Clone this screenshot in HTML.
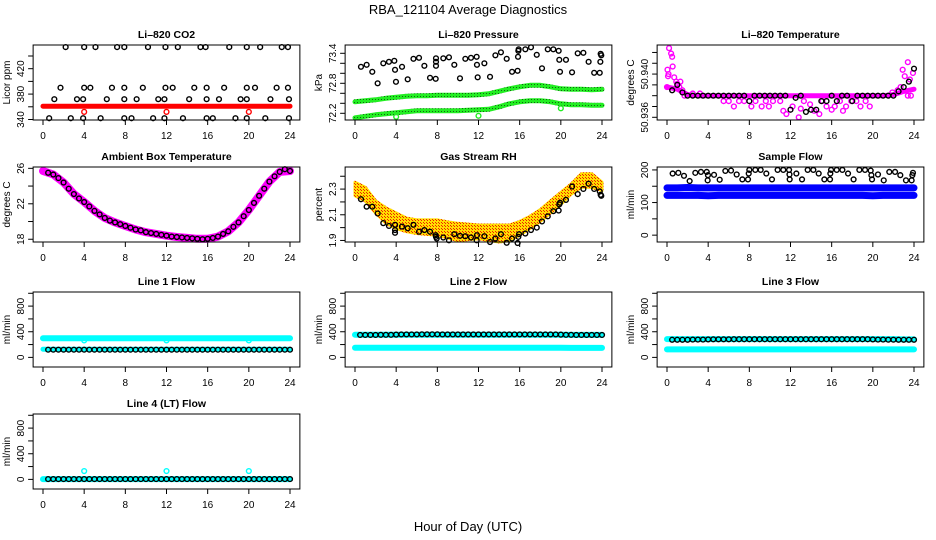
<!DOCTYPE html>
<html><head><meta charset="utf-8"><style>
html,body{margin:0;padding:0;background:#fff;}
svg{display:block;font-family:"Liberation Sans",Arial,sans-serif;}
.tk{font-size:10px;fill:#000;}
.pt{font-size:10.5px;font-weight:bold;fill:#000;}
</style></head><body>
<svg id="chart" width="936" height="540" viewBox="0 0 936 540" xmlns="http://www.w3.org/2000/svg">
<defs>
<pattern id="rhpat" width="3" height="3" patternUnits="userSpaceOnUse"><rect width="3" height="3" fill="#ffdd00"/><rect width="1" height="1" fill="#ee2200"/><rect x="1" y="1" width="1" height="1" fill="#ee2200"/></pattern>
<pattern id="grpat" width="3" height="3" patternUnits="userSpaceOnUse"><rect width="3" height="3" fill="#22ee22"/><rect width="1" height="1" fill="#116611"/></pattern>
</defs>
<text x="468" y="14" text-anchor="middle" font-size="13">RBA_121104  Average Diagnostics</text>
<text x="468" y="531" text-anchor="middle" font-size="13">Hour of Day (UTC)</text>
</svg>
<script>
const hh = [0.5,1,1.5,2,2.5,3,3.5,4,4.5,5,5.5,6,6.5,7,7.5,8,8.5,9,9.5,10,10.5,11,11.5,12,12.5,13,13.5,14,14.5,15,15.5,16,16.5,17,17.5,18,18.5,19,19.5,20,20.5,21,21.5,22,22.5,23,23.5,24];
const hourly = [0,1,2,3,4,5,6,7,8,9,10,11,12,13,14,15,16,17,18,19,20,21,22,23,24];
const xTickLabels = ["0","4","8","12","16","20","24"];

// CO2
const co2Hours = [2.2,4.0,5.1,7.2,7.9,10.2,11.9,13.1,15.3,15.8,18.1,19.8,21.1,23.2,23.8, 1.7,4.0,4.6,6.7,7.9,9.7,11.9,12.6,14.7,15.9,17.6,19.8,20.6,22.7,23.8, 1.1,3.3,3.9,6.2,7.9,9.1,11.2,11.8,14.2,15.9,17.1,19.2,19.8,22.1,23.9, 0.6,2.7,3.9,5.6,7.9,8.6,10.7,11.8,13.6,15.9,16.5,18.7,19.8,21.6,23.9];
const co2Vals = [454,454,454,454,454,454,454,454,454,454,454,454,454,454,454, 390,390,390,390,390,390,390,390,390,390,390,390,390,390,390, 372,372,372,372,372,372,372,372,372,372,372,372,372,372,372, 342,342,342,342,342,342,342,342,342,342,342,342,342,342,342];
const co2Red = [361,361,361,361,361,361,361,361,361,361,361,361,361,361,361,361,361,361,361,361,361,361,361,361,361];
const co2RedOutHours = [4,12,20];
const co2RedOutVals = [352,352,352];

// Pressure
const prHours = [0.58,1.13,1.68,2.2,2.75,3.3,3.82,3.89,3.98,4.57,5.12,5.68,6.22,6.74,7.29,7.84,7.87,7.87,7.87,8.58,9.13,9.65,10.2,10.72,11.27,11.82,11.85,11.92,12.57,13.12,13.64,14.18,14.74,15.26,15.8,15.84,15.87,15.9,16.55,17.1,17.66,18.17,18.73,19.27,19.79,19.85,19.92,20.5,21.09,21.64,22.19,22.7,23.24,23.78,23.84,23.87,23.93];
const prVals = [73.13,73.17,73.03,72.80,73.20,73.23,73.25,73.07,72.83,73.13,72.88,73.29,73.31,73.15,72.91,72.89,73.30,73.23,73.15,73.30,73.32,73.17,72.90,73.29,73.31,73.33,73.17,72.92,73.20,72.93,73.36,73.42,73.29,73.03,73.05,73.33,73.45,73.48,73.48,73.52,73.37,73.10,73.48,73.48,73.45,73.27,73.03,73.27,73.02,73.40,73.41,73.23,73.01,73.01,73.23,73.39,73.36];
const prGreenHi = [72.43,72.45,72.47,72.50,72.52,72.54,72.55,72.55,72.56,72.56,72.56,72.56,72.57,72.59,72.64,72.69,72.73,72.76,72.76,72.73,72.69,72.68,72.68,72.67,72.68];
const prGreenLo = [72.11,72.14,72.17,72.19,72.21,72.23,72.25,72.25,72.25,72.25,72.25,72.26,72.27,72.28,72.33,72.39,72.43,72.45,72.45,72.43,72.39,72.37,72.37,72.36,72.36];
const prOutHours = [4,12,20];
const prOutVals = [72.13,72.15,72.30];

// Li-820 Temperature
const tBlack = [50.9385,50.9390,50.9383,50.938,50.938,50.938,50.938,50.938,50.938,50.938,50.938,50.938,50.938,50.938,50.938,50.9375,50.938,50.938,50.938,50.938,50.938,50.938,50.938,50.9367,50.9378,50.938,50.9365,50.9367,50.9367,50.9375,50.9375,50.938,50.9375,50.938,50.938,50.9375,50.938,50.938,50.938,50.938,50.938,50.938,50.938,50.938,50.9384,50.9388,50.9393,50.9405];
const tBand = [50.9388,50.9386,50.9381,50.938,50.938,50.938,50.938,50.938,50.938,50.938,50.938,50.938,50.938,50.938,50.938,50.938,50.938,50.938,50.938,50.938,50.938,50.938,50.9381,50.9384,50.9386];
const tMagHours = [0.0,0.05,0.1,0.15,0.2,0.4,0.5,0.55,0.7,0.9,1.0,1.2,1.3,1.5,1.7,2.5,3.2,5.5,6.0,6.5,7.0,7.5,8.2,8.6,9.2,9.6,9.9,10.3,11.0,11.3,11.6,12.2,12.8,13.0,13.3,13.9,14.3,14.8,15.1,15.5,16.0,16.3,16.8,17.1,17.4,17.9,18.4,18.8,19.3,19.7,21.9,22.4,22.7,22.9,23.1,23.4,23.4,23.6,23.7,23.9];
const tMagVals = [50.9388,50.9404,50.9398,50.9400,50.9424,50.9419,50.9416,50.9407,50.9397,50.9393,50.9391,50.9388,50.9393,50.9385,50.9380,50.9382,50.9382,50.9375,50.9375,50.9370,50.9375,50.9375,50.9370,50.9375,50.9370,50.9375,50.9370,50.9375,50.9375,50.9366,50.9363,50.9370,50.9360,50.9368,50.9375,50.9372,50.9366,50.9363,50.9375,50.9370,50.9367,50.9370,50.9375,50.9366,50.9370,50.9375,50.9375,50.9370,50.9375,50.9370,50.9383,50.9385,50.9388,50.9404,50.9398,50.9411,50.9380,50.9395,50.9380,50.9401];

// Ambient
const ambBand = [25.7,25.3,24.4,23.1,22.2,21.2,20.4,19.9,19.5,19.1,18.8,18.6,18.4,18.25,18.15,18.05,18.05,18.3,18.9,19.9,21.3,22.9,24.5,25.6,25.7];
const ambBlack = [25.5,25.3,24.9,24.4,23.7,23.1,22.6,22.2,21.7,21.2,20.8,20.4,20.1,19.9,19.7,19.5,19.3,19.1,19.0,18.8,18.7,18.6,18.5,18.4,18.3,18.25,18.2,18.15,18.1,18.05,18.0,18.05,18.15,18.3,18.6,18.9,19.4,19.9,20.6,21.3,22.1,22.9,23.7,24.5,25.1,25.6,25.9,25.7];

// Gas RH
const rhHi = [2.354,2.314,2.208,2.154,2.114,2.074,2.06,2.06,2.06,2.045,2.034,2.027,2.02,2.02,2.02,2.02,2.048,2.088,2.14,2.208,2.274,2.34,2.42,2.42,2.354];
const rhLo = [2.248,2.208,2.114,2.034,1.994,1.968,1.954,1.947,1.94,1.92,1.90,1.907,1.914,1.90,1.888,1.90,1.94,1.994,2.048,2.114,2.18,2.26,2.314,2.314,2.288];
const rhHours = [0.58,1.13,1.68,2.2,2.75,3.3,3.89,3.89,3.89,4.57,5.12,5.68,6.22,6.74,7.29,7.84,7.87,7.94,8.58,9.13,9.65,10.2,10.72,11.27,11.82,11.85,12.57,13.12,13.64,14.18,14.74,15.26,15.8,15.87,15.94,16.55,17.1,17.66,18.17,18.73,19.27,19.79,19.85,19.92,20.5,21.09,21.64,22.19,22.7,23.24,23.78,23.87,23.93];
const rhVals = [2.221,2.163,2.163,2.11,2.035,2.013,2.022,1.981,1.96,2.008,1.995,2.022,1.968,1.981,1.968,1.941,1.928,1.915,1.923,1.901,1.949,1.936,1.933,1.923,1.901,1.941,1.933,1.888,1.915,1.949,1.882,1.915,1.88,1.928,1.949,1.954,1.981,2.0,2.048,2.088,2.128,2.133,2.181,2.194,2.216,2.32,2.261,2.301,2.342,2.301,2.282,2.256,2.248];

// Sample flow
const sfHi = [145,145,146,145,145,145,145,145,145,145,145,145,145,145,145,145,145,145,145,145,145,145,145,145,145];
const sfLo = [122,122,122,122,121,122,122,122,122,122,122,122,122,122,122,122,122,122,122,122,121,122,122,122,122];
const sfHours = [0.55,1.1,1.65,2.2,2.75,3.3,3.86,3.95,3.98,4.57,5.12,5.67,6.22,6.77,7.32,7.87,7.94,8.0,8.58,9.1,9.65,10.2,10.75,11.3,11.86,11.9,11.92,12.57,13.12,13.67,14.22,14.74,15.29,15.84,15.87,15.94,16.49,17.04,17.59,18.13,18.69,19.24,19.79,19.86,19.92,20.5,21.06,21.6,22.16,22.67,23.22,23.77,23.84,23.9];
const sfVals = [189,191,182,166,191,194,194,168,184,185,170,197,198,186,171,171,189,200,200,200,189,171,200,200,200,186,171,189,171,200,200,189,171,171,189,200,200,200,189,171,200,200,198,184,171,186,168,194,194,184,168,168,184,191];

// Line flows
const l1CyanHi = [300,300,300,300,300,300,300,300,300,300,300,300,300,300,300,300,300,300,300,300,300,300,298,298,298];
const l1CyanLo = [128,128,128,128,128,128,128,128,128,128,128,128,128,128,128,128,128,128,128,128,128,128,128,128,128];
const l1OutHours = [4,12,20];
const l1OutVals = [265,265,265];
const l1Black = [120,120,120,120,120,120,120,120,120,120,120,120,120,120,120,120,120,120,120,120,120,120,120,120,120,120,120,120,120,120,120,120,120,120,120,120,120,120,120,120,120,120,120,120,120,120,120,120];
const l2CyanHi = [352,352,352,352,352,352,352,352,352,352,352,352,352,352,352,352,352,352,352,352,352,350,350,350,350];
const l2CyanLo = [150,150,150,150,150,150,150,150,150,150,150,150,150,150,150,150,150,150,150,150,150,148,148,148,148];
const l2Black = [350,350,350,350,352,352,352,355,358,358,358,358,360,360,360,360,358,358,358,358,358,358,358,358,358,358,358,358,358,358,358,358,358,358,358,358,358,358,358,355,352,352,350,350,350,350,350,350];
const l3CyanHi = [285,285,285,285,285,285,285,285,285,285,285,285,285,285,285,285,285,285,285,285,285,285,285,280,280];
const l3CyanLo = [125,125,125,125,125,125,125,125,125,125,125,125,125,125,125,125,125,125,125,125,125,125,125,125,125];
const l3Black = [275,275,275,275,278,278,278,280,282,282,282,282,283,283,283,283,283,283,283,283,283,283,283,283,283,283,283,283,283,283,283,283,283,283,283,283,283,283,283,280,278,278,276,276,275,275,275,275];
const l4Cyan = [5,5,5,5,5,5,5,5,5,5,5,5,5,5,5,5,5,5,5,5,5,5,5,5,5];
const l4OutHours = [4,12,20];
const l4OutVals = [130,130,130];
const l4Black = [5,5,5,5,5,5,5,5,5,5,5,5,5,5,5,5,5,5,5,5,5,5,5,5,5,5,5,5,5,5,5,5,5,5,5,5,5,5,5,5,5,5,5,5,5,5,5,5];

const svg = document.getElementById('chart');
const NS = 'http://www.w3.org/2000/svg';
function mk(tag, attrs, parent){ const e=document.createElementNS(NS,tag); for(const k in attrs) e.setAttribute(k,attrs[k]); (parent||svg).appendChild(e); return e; }

const colX = [[43,290],[355,602],[667,914]];
const rowY = [45,167,292,414];
const BH = 75;

function panel(name, col, row, title, ylab, ymin, ymax, yticks, ylabels){
  const [x0,x24] = colX[col];
  const pad = 0.04*(x24-x0);
  const L = x0-pad, R = x24+pad, T = rowY[row], B = T+BH;
  const g = mk('g',{});
  
  
  const x = h => x0 + (h/24)*(x24-x0);
  const y = v => B - (v-ymin)/(ymax-ymin)*BH;
  const t = mk('text',{x:(L+R)/2, y:T-7, 'text-anchor':'middle', class:'pt'}, g);
  t.textContent = title;
  
  
  const xa = mk('g',{}, g);
  
  
  mk('line',{x1:x(0),x2:x(24),y1:B,y2:B,stroke:'#000','stroke-width':1}, xa);
  for(let i=0;i<xTickLabels.length;i++){
    const h = i*4;
    mk('line',{x1:x(h),x2:x(h),y1:B,y2:B+5,stroke:'#000','stroke-width':1}, xa);
    const tl = mk('text',{x:x(h), y:B+19, 'text-anchor':'middle', class:'tk'}, xa);
    tl.textContent = xTickLabels[i];
  }
  const ya = mk('g',{}, g);
  
  
  for(let i=0;i<yticks.length;i++){
    const v = yticks[i];
    mk('line',{x1:L-5,x2:L,y1:y(v),y2:y(v),stroke:'#000','stroke-width':1}, ya);
    if(ylabels[i]){
      const tl = mk('text',{x:L-9, y:y(v), 'text-anchor':'middle', class:'tk', transform:`rotate(-90 ${L-9} ${y(v)})`}, ya);
      tl.textContent = ylabels[i];
    }
  }
  const yt = mk('text',{x:L-23, y:(T+B)/2, 'text-anchor':'middle', class:'tk', transform:`rotate(-90 ${L-23} ${(T+B)/2})`}, ya);
  yt.textContent = ylab;
  
  
  const plot = mk('g',{}, g);
  const box = mk('rect',{x:L,y:T,width:R-L,height:BH,fill:'none',stroke:'#000','stroke-width':1}, g);
  
  
  return {g:plot, x, y};
}

function pts(p, hours, vals, color, name){
  const gg = mk('g',{}, p.g);
  
  
  for(let i=0;i<vals.length;i++){
    const c = mk('circle',{cx:p.x(hours[i]), cy:p.y(vals[i]), r:2.4, fill:'none', stroke:color, 'stroke-width':1.4}, gg);
    
    
  }
}
function band(p, hours, vals, color, w, name){
  const d = vals.map((v,i)=>`${p.x(hours[i]).toFixed(1)},${p.y(v).toFixed(1)}`).join(' ');
  const l = mk('polyline',{points:d, fill:'none', stroke:color, 'stroke-width':w, 'stroke-linejoin':'round', 'stroke-linecap':'round'}, p.g);
  
  
}
function area(p, hours, hi, lo, fill, name){
  const up = hi.map((v,i)=>`${p.x(hours[i]).toFixed(1)},${p.y(v).toFixed(1)}`);
  const dn = lo.map((v,i)=>`${p.x(hours[i]).toFixed(1)},${p.y(v).toFixed(1)}`).reverse();
  const a = mk('polygon',{points:up.concat(dn).join(' '), fill:fill, stroke:'url(#rhpat)','stroke-width':3,'stroke-linejoin':'round'}, p.g);
  
  
}

// Panels
let p = panel('co2-panel',0,0,'Li–820 CO2','Licor ppm',339.2,457.3,[340,360,380,400,420,440],['340','','380','','420','']);
band(p, hourly, co2Red, '#ff0000', 5, 'co2-red-band');
pts(p, co2RedOutHours, co2RedOutVals, '#ff0000', 'co2-red-outliers');
pts(p, co2Hours, co2Vals, '#000', 'co2-black-points');

p = panel('pressure-panel',1,0,'Li–820 Pressure','kPa',72.066,73.566,[72.2,72.4,72.6,72.8,73.0,73.2,73.4],['72.2','','','72.8','','','73.4']);
band(p, hourly, prGreenHi, 'url(#grpat)', 5, 'pressure-green-upper');
band(p, hourly, prGreenLo, 'url(#grpat)', 5, 'pressure-green-lower');
pts(p, prOutHours, prOutVals, '#22ee22', 'pressure-green-outliers');
pts(p, prHours, prVals, '#000', 'pressure-black-points');

p = panel('li820-temperature-panel',2,0,'Li–820 Temperature','degrees C',50.93575,50.94269,[50.936,50.937,50.938,50.939,50.940,50.941,50.942],['50.936','','','','50.940','','']);
band(p, hourly, tBand, '#ff00ff', 5, 'temperature-magenta-band');
pts(p, tMagHours, tMagVals, '#ff00ff', 'temperature-magenta-points');
pts(p, hh, tBlack, '#000', 'temperature-black-points');

p = panel('ambient-panel',0,1,'Ambient Box Temperature','degrees C',17.69,26.15,[18,20,22,24,26],['18','','22','','26']);
band(p, hourly, ambBand, '#ff00ff', 8, 'ambient-magenta-band');
pts(p, hh, ambBlack, '#000', 'ambient-black-points');

p = panel('rh-panel',1,1,'Gas Stream RH','percent',1.888,2.472,[1.9,2.0,2.1,2.2,2.3,2.4],['1.9','','2.1','','2.3','']);
area(p, hourly, rhHi, rhLo, 'url(#rhpat)', 'rh-orange-band');
pts(p, rhHours, rhVals, '#000', 'rh-black-points');

p = panel('sample-flow-panel',2,1,'Sample Flow','ml/min',-21,209,[0,50,100,150,200],['0','','100','','200']);
band(p, hourly, sfHi, '#0000ff', 7, 'sample-flow-upper-band');
band(p, hourly, sfLo, '#0000ff', 7, 'sample-flow-lower-band');
pts(p, sfHours, sfVals, '#000', 'sample-flow-black-points');

const flowTicks = [0,200,400,600,800,1000];
const flowLabels = ['0','','400','','800',''];
p = panel('line1-flow-panel',0,2,'Line 1 Flow','ml/min',-150,1020,flowTicks,flowLabels);
band(p, hourly, l1CyanHi, '#00ffff', 6, 'line1-cyan-upper');
band(p, hourly, l1CyanLo, '#00ffff', 5, 'line1-cyan-lower');
pts(p, l1OutHours, l1OutVals, '#00ffff', 'line1-cyan-outliers');
pts(p, hh, l1Black, '#000', 'line1-black-points');

p = panel('line2-flow-panel',1,2,'Line 2 Flow','ml/min',-150,1020,flowTicks,flowLabels);
band(p, hourly, l2CyanHi, '#00ffff', 6, 'line2-cyan-upper');
band(p, hourly, l2CyanLo, '#00ffff', 6, 'line2-cyan-lower');
pts(p, hh, l2Black, '#000', 'line2-black-points');

p = panel('line3-flow-panel',2,2,'Line 3 Flow','ml/min',-150,1020,flowTicks,flowLabels);
band(p, hourly, l3CyanHi, '#00ffff', 6, 'line3-cyan-upper');
band(p, hourly, l3CyanLo, '#00ffff', 6, 'line3-cyan-lower');
pts(p, hh, l3Black, '#000', 'line3-black-points');

p = panel('line4-flow-panel',0,3,'Line 4 (LT) Flow','ml/min',-150,1020,flowTicks,flowLabels);
band(p, hourly, l4Cyan, '#00ffff', 6, 'line4-cyan-band');
pts(p, l4OutHours, l4OutVals, '#00ffff', 'line4-cyan-outliers');
pts(p, hh, l4Black, '#000', 'line4-black-points');
</script>
</body></html>
